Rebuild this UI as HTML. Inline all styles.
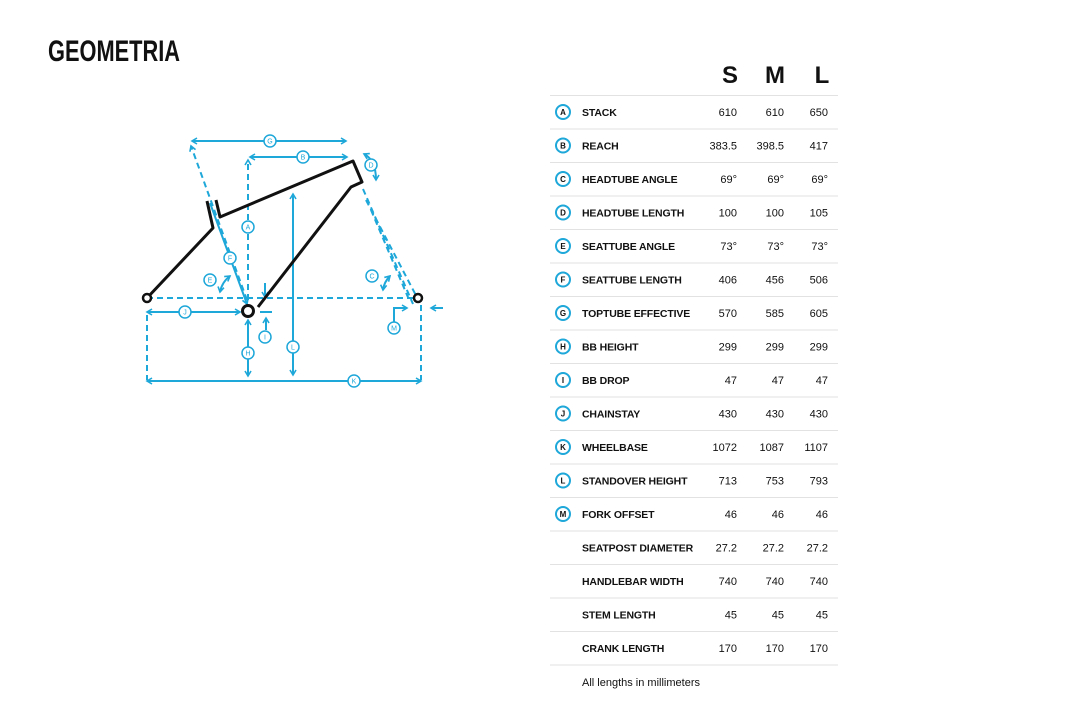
<!DOCTYPE html>
<html><head><meta charset="utf-8"><style>
html,body{margin:0;padding:0;background:#fff;width:1066px;height:717px;overflow:hidden}
svg{position:absolute;left:0;top:0}
.t{font-family:"Liberation Sans",sans-serif;font-size:11px;fill:#111}
.b{font-weight:bold;font-size:10.5px;letter-spacing:-0.15px}
.l{font-family:"Liberation Sans",sans-serif;font-size:7px;fill:#1ea7d9;text-anchor:middle}
.bl{stroke:#1ea7d9;stroke-width:2;fill:none}
.dash{stroke-dasharray:6 4}
</style></head><body>
<svg width="1066" height="717" viewBox="0 0 1066 717">
<defs>
<marker id="a" markerWidth="8" markerHeight="8" refX="6" refY="4" orient="auto-start-reverse" markerUnits="userSpaceOnUse"><path d="M1,1 L6,4 L1,7" fill="none" stroke="#1ea7d9" stroke-width="1.6"/></marker>
</defs>
<text x="48" y="61" font-family="'Liberation Sans Narrow','Liberation Sans',sans-serif" font-weight="bold" font-size="30" fill="#111" textLength="132" lengthAdjust="spacingAndGlyphs">GEOMETRIA</text>

<g class="bl">
<line x1="147" y1="298" x2="417" y2="298" class="dash"/>
<line x1="192" y1="141" x2="346" y2="141" marker-start="url(#a)" marker-end="url(#a)"/>
<line x1="250" y1="157" x2="347" y2="157" marker-start="url(#a)" marker-end="url(#a)"/>
<line x1="247" y1="300" x2="191" y2="146" class="dash" marker-end="url(#a)"/>
<line x1="210" y1="203" x2="247" y2="304" marker-end="url(#a)"/>
<line x1="248" y1="300" x2="248" y2="160" class="dash" marker-end="url(#a)"/>
<line x1="293" y1="194" x2="293" y2="375" marker-start="url(#a)" marker-end="url(#a)"/>
<path d="M364,154 Q376,160 376,180" marker-start="url(#a)" marker-end="url(#a)"/>
<path d="M220,292 Q222,282 230,276" marker-start="url(#a)" marker-end="url(#a)"/>
<path d="M383,290 Q384,282 390,276" marker-start="url(#a)" marker-end="url(#a)"/>
<line x1="363" y1="189" x2="413" y2="304" class="dash"/>
<line x1="371" y1="210" x2="410" y2="302" class="dash"/>
<line x1="366" y1="200" x2="421" y2="305" class="dash"/>
<path d="M394,322 L394,308 L407,308" marker-end="url(#a)"/>
<line x1="443" y1="308" x2="431" y2="308" marker-end="url(#a)"/>
<line x1="147" y1="312" x2="240" y2="312" marker-start="url(#a)" marker-end="url(#a)"/>
<line x1="260" y1="312" x2="272" y2="312"/>
<line x1="266" y1="330" x2="266" y2="318" marker-end="url(#a)"/>
<line x1="265" y1="283" x2="265" y2="297" marker-end="url(#a)"/>
<line x1="248" y1="320" x2="248" y2="376" marker-start="url(#a)" marker-end="url(#a)"/>
<line x1="147" y1="381" x2="421" y2="381" marker-start="url(#a)" marker-end="url(#a)"/>
<line x1="147" y1="315" x2="147" y2="380" class="dash"/>
<line x1="421" y1="305" x2="421" y2="380" class="dash"/>
</g>
<g stroke="#111" stroke-width="3" fill="none" stroke-linejoin="round">
<path d="M147,298 L213,228 L207,201"/>
<path d="M216,200 L220,217 L353,161 L362,182 L351,187 L258,307"/>
</g>
<circle cx="147" cy="298" r="4" fill="#fff" stroke="#111" stroke-width="2.5"/>
<circle cx="418" cy="298" r="4" fill="#fff" stroke="#111" stroke-width="2.5"/>
<circle cx="248" cy="311" r="5.5" fill="#fff" stroke="#111" stroke-width="3"/>
<g>
<g fill="#fff" stroke="#1ea7d9" stroke-width="1.5">
<circle cx="270" cy="141" r="6"/><circle cx="303" cy="157" r="6"/><circle cx="248" cy="227" r="6"/>
<circle cx="371" cy="165" r="6"/><circle cx="293" cy="347" r="6"/><circle cx="372" cy="276" r="6"/>
<circle cx="210" cy="280" r="6"/><circle cx="230" cy="258" r="6"/><circle cx="394" cy="328" r="6"/>
<circle cx="185" cy="312" r="6"/><circle cx="265" cy="337" r="6"/><circle cx="248" cy="353" r="6"/>
<circle cx="354" cy="381" r="6"/>
</g>
<text class="l" x="270" y="143.5">G</text><text class="l" x="303" y="159.5">B</text><text class="l" x="248" y="229.5">A</text>
<text class="l" x="371" y="167.5">D</text><text class="l" x="293" y="349.5">L</text><text class="l" x="372" y="278.5">C</text>
<text class="l" x="210" y="282.5">E</text><text class="l" x="230" y="260.5">F</text><text class="l" x="394" y="330.5">M</text>
<text class="l" x="185" y="314.5">J</text><text class="l" x="265" y="339.5">I</text><text class="l" x="248" y="355.5">H</text>
<text class="l" x="354" y="383.5">K</text>
</g>

<g font-family="'Liberation Sans Narrow','Liberation Sans',sans-serif" font-weight="bold" font-size="24" fill="#111" text-anchor="middle">
<text x="730" y="83">S</text><text x="775" y="83">M</text><text x="822" y="83">L</text>
</g>
<g stroke="#e2e2e2" stroke-width="1">
<line x1="550" x2="838" y1="95.5" y2="95.5"/><line x1="550" x2="838" y1="129" y2="129"/><line x1="550" x2="838" y1="162.5" y2="162.5"/>
<line x1="550" x2="838" y1="196" y2="196"/><line x1="550" x2="838" y1="229.5" y2="229.5"/><line x1="550" x2="838" y1="263" y2="263"/>
<line x1="550" x2="838" y1="296.5" y2="296.5"/><line x1="550" x2="838" y1="330" y2="330"/><line x1="550" x2="838" y1="363.5" y2="363.5"/>
<line x1="550" x2="838" y1="397" y2="397"/><line x1="550" x2="838" y1="430.5" y2="430.5"/><line x1="550" x2="838" y1="464" y2="464"/>
<line x1="550" x2="838" y1="497.5" y2="497.5"/><line x1="550" x2="838" y1="531" y2="531"/><line x1="550" x2="838" y1="564.5" y2="564.5"/>
<line x1="550" x2="838" y1="598" y2="598"/><line x1="550" x2="838" y1="631.5" y2="631.5"/><line x1="550" x2="838" y1="665" y2="665"/>
</g>
<g fill="#fff" stroke="#1ea7d9" stroke-width="2">
<circle cx="563" cy="112" r="7"/><circle cx="563" cy="145.5" r="7"/><circle cx="563" cy="179" r="7"/><circle cx="563" cy="212.5" r="7"/>
<circle cx="563" cy="246" r="7"/><circle cx="563" cy="279.5" r="7"/><circle cx="563" cy="313" r="7"/><circle cx="563" cy="346.5" r="7"/>
<circle cx="563" cy="380" r="7"/><circle cx="563" cy="413.5" r="7"/><circle cx="563" cy="447" r="7"/><circle cx="563" cy="480.5" r="7"/>
<circle cx="563" cy="514" r="7"/>
</g>
<g font-family="'Liberation Sans',sans-serif" font-size="8" font-weight="bold" fill="#111" text-anchor="middle">
<text x="563" y="115">A</text><text x="563" y="148.5">B</text><text x="563" y="182">C</text><text x="563" y="215.5">D</text>
<text x="563" y="249">E</text><text x="563" y="282.5">F</text><text x="563" y="316">G</text><text x="563" y="349.5">H</text>
<text x="563" y="383">I</text><text x="563" y="416.5">J</text><text x="563" y="450">K</text><text x="563" y="483.5">L</text>
<text x="563" y="517">M</text>
</g>
<g class="t b">
<text x="582" y="116">STACK</text><text x="582" y="149.5">REACH</text><text x="582" y="183">HEADTUBE ANGLE</text>
<text x="582" y="216.5">HEADTUBE LENGTH</text><text x="582" y="250">SEATTUBE ANGLE</text><text x="582" y="283.5">SEATTUBE LENGTH</text>
<text x="582" y="317">TOPTUBE EFFECTIVE</text><text x="582" y="350.5">BB HEIGHT</text><text x="582" y="384">BB DROP</text>
<text x="582" y="417.5">CHAINSTAY</text><text x="582" y="451">WHEELBASE</text><text x="582" y="484.5">STANDOVER HEIGHT</text>
<text x="582" y="518">FORK OFFSET</text><text x="582" y="551.5">SEATPOST DIAMETER</text><text x="582" y="585">HANDLEBAR WIDTH</text>
<text x="582" y="618.5">STEM LENGTH</text><text x="582" y="652">CRANK LENGTH</text>
</g>
<g class="t" text-anchor="end">
<text x="737" y="116">610</text><text x="784" y="116">610</text><text x="828" y="116">650</text>
<text x="737" y="149.5">383.5</text><text x="784" y="149.5">398.5</text><text x="828" y="149.5">417</text>
<text x="737" y="183">69°</text><text x="784" y="183">69°</text><text x="828" y="183">69°</text>
<text x="737" y="216.5">100</text><text x="784" y="216.5">100</text><text x="828" y="216.5">105</text>
<text x="737" y="250">73°</text><text x="784" y="250">73°</text><text x="828" y="250">73°</text>
<text x="737" y="283.5">406</text><text x="784" y="283.5">456</text><text x="828" y="283.5">506</text>
<text x="737" y="317">570</text><text x="784" y="317">585</text><text x="828" y="317">605</text>
<text x="737" y="350.5">299</text><text x="784" y="350.5">299</text><text x="828" y="350.5">299</text>
<text x="737" y="384">47</text><text x="784" y="384">47</text><text x="828" y="384">47</text>
<text x="737" y="417.5">430</text><text x="784" y="417.5">430</text><text x="828" y="417.5">430</text>
<text x="737" y="451">1072</text><text x="784" y="451">1087</text><text x="828" y="451">1107</text>
<text x="737" y="484.5">713</text><text x="784" y="484.5">753</text><text x="828" y="484.5">793</text>
<text x="737" y="518">46</text><text x="784" y="518">46</text><text x="828" y="518">46</text>
<text x="737" y="551.5">27.2</text><text x="784" y="551.5">27.2</text><text x="828" y="551.5">27.2</text>
<text x="737" y="585">740</text><text x="784" y="585">740</text><text x="828" y="585">740</text>
<text x="737" y="618.5">45</text><text x="784" y="618.5">45</text><text x="828" y="618.5">45</text>
<text x="737" y="652">170</text><text x="784" y="652">170</text><text x="828" y="652">170</text>
</g>
<text class="t" x="582" y="686" font-size="10.7">All lengths in millimeters</text>
</svg>
</body></html>
